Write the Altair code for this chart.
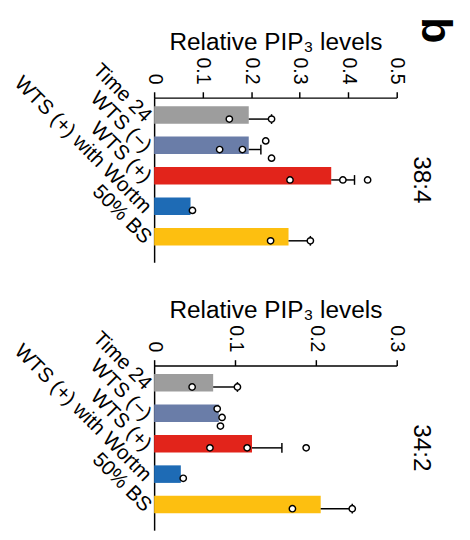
import altair as alt
import pandas as pd

FONT = "Liberation Sans"

categories = ["Time 24", "WTS (\u2212)", "WTS (+)", "WTS (+) with Wortm", "50% BS"]
bar_colors = ["#9d9d9d", "#6a7da8", "#e2241b", "#1e6bb5", "#fdbf10"]
lanes = ["u", "m", "l"]
panel_letter = "b"

# Panel 38:4
title_a = "38:4"
ticks_a = [0, 0.1, 0.2, 0.3, 0.4, 0.5]
mean_a = [0.195, 0.195, 0.365, 0.075, 0.277]
upper_a = [0.242, 0.220, 0.413, None, 0.322]
pt_cat_a = ["Time 24", "Time 24",
            "WTS (\u2212)", "WTS (\u2212)", "WTS (\u2212)", "WTS (\u2212)",
            "WTS (+)", "WTS (+)", "WTS (+)",
            "WTS (+) with Wortm",
            "50% BS", "50% BS"]
pt_val_a = [0.155, 0.242, 0.135, 0.182, 0.230, 0.242, 0.280, 0.389, 0.440, 0.079, 0.240, 0.322]
pt_lane_a = ["m", "m", "m", "m", "u", "l", "m", "m", "m", "m", "m", "m"]

# Panel 34:2
title_b = "34:2"
ticks_b = [0, 0.1, 0.2, 0.3]
mean_b = [0.073, 0.080, 0.121, 0.033, 0.206]
upper_b = [0.103, None, 0.158, None, 0.245]
pt_cat_b = ["Time 24", "Time 24",
            "WTS (\u2212)", "WTS (\u2212)", "WTS (\u2212)",
            "WTS (+)", "WTS (+)", "WTS (+)",
            "WTS (+) with Wortm",
            "50% BS", "50% BS"]
pt_val_b = [0.047, 0.103, 0.078, 0.084, 0.082, 0.069, 0.115, 0.188, 0.036, 0.171, 0.245]
pt_lane_b = ["m", "m", "u", "m", "l", "m", "m", "m", "m", "m", "m"]

W, H = 249, 169


def panel(mean, upper, pcat, pval, plane, ticks, label, letter=None):
    bars_df = pd.DataFrame({"cat": categories, "mean": mean, "upper": upper, "color": bar_colors})
    pts_df = pd.DataFrame({"cat": pcat, "val": pval, "lane": plane})
    xmax = ticks[-1]

    y = alt.Y("cat:N", sort=categories,
              scale=alt.Scale(paddingInner=0.15, paddingOuter=0.28),
              axis=alt.Axis(title=None, labelAngle=45, labelAlign="right",
                            labelBaseline="middle", ticks=False,
                            domainColor="black", domainWidth=1.5,
                            labelFontSize=21, labelColor="black",
                            labelPadding=7, labelLimit=0, labelFont=FONT))
    x = alt.X("mean:Q", scale=alt.Scale(domain=[0, xmax], nice=False),
              axis=alt.Axis(orient="top", title="Relative PIP\u2083 levels",
                            values=ticks, format="~g", labelAngle=90,
                            labelAlign="right", labelBaseline="middle",
                            tickSize=6, tickColor="black", tickWidth=1.5,
                            domainColor="black", domainWidth=1.5,
                            labelFontSize=20, labelColor="black", labelPadding=8,
                            labelFont=FONT, titleFont=FONT, titleFontSize=25,
                            titleFontWeight="normal", titleColor="black",
                            titlePadding=3, grid=False))

    bars = alt.Chart(bars_df).mark_bar().encode(
        y=y, x=x, color=alt.Color("color:N", scale=None))
    ysimple = alt.Y("cat:N", sort=categories)
    err = alt.Chart(bars_df).transform_filter("isValid(datum.upper)").mark_rule(
        color="black", strokeWidth=1.5).encode(y=ysimple, x="mean:Q", x2="upper:Q")
    cap = alt.Chart(bars_df).transform_filter("isValid(datum.upper)").mark_tick(
        color="black", thickness=1.5, size=10, opacity=1).encode(y=ysimple, x="upper:Q")
    pts = alt.Chart(pts_df).mark_circle(
        color="white", stroke="black", strokeWidth=1.5, size=42, opacity=1).encode(
        y=ysimple, x="val:Q",
        yOffset=alt.YOffset("lane:N", sort=lanes,
                            scale=alt.Scale(domain=lanes, paddingOuter=0.5)))
    side = alt.Chart(pd.DataFrame({"t": [label]})).mark_text(
        angle=90, align="center", baseline="middle", fontSize=25, font=FONT,
        color="black").encode(text="t:N", x=alt.value(W + 26), y=alt.value(H / 2))
    layers = [bars, err, cap, pts, side]
    if letter:
        lt = alt.Chart(pd.DataFrame({"t": [letter]})).mark_text(
            angle=90, align="left", baseline="top", fontSize=44, fontWeight="bold",
            font=FONT, color="black").encode(
            text="t:N", x=alt.value(W + 61), y=alt.value(-82.5))
        layers.append(lt)
    return alt.layer(*layers).properties(width=W, height=H)


p1 = panel(mean_a, upper_a, pt_cat_a, pt_val_a, pt_lane_a, ticks_a, title_a, panel_letter)
p2 = panel(mean_b, upper_b, pt_cat_b, pt_val_b, pt_lane_b, ticks_b, title_b)

chart = alt.vconcat(p1, p2, spacing=36).properties(
    padding={"left": 2, "top": 2, "right": 6, "bottom": 0}
).configure_view(stroke=None)

chart.save("out.html", embed_options={"renderer": "svg", "actions": False})
